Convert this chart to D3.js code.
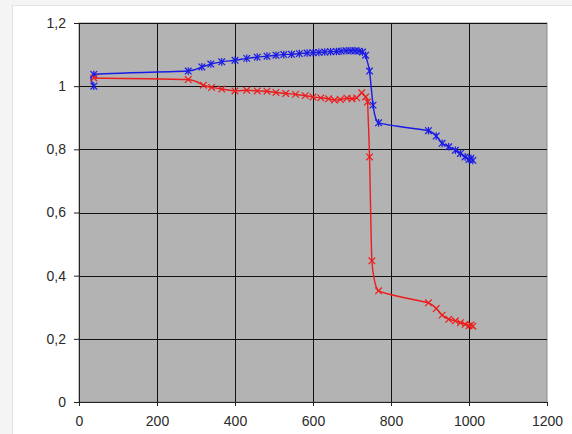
<!DOCTYPE html>
<html>
<head>
<meta charset="utf-8">
<script src="https://cdn.jsdelivr.net/npm/d3@7"></script>
<style>
  body { margin: 0; background: #f4f4f4; }
  svg { display: block; }
</style>
</head>
<body>
<div id="chart"></div>
<script>
// series values
let blueX = [38, 38, 280, 315, 338, 366, 400, 430, 457, 482, 505, 525, 545, 565, 585, 600, 615, 630, 645, 660,
    672, 685, 697, 708, 718, 727, 735, 745, 754, 768, 896, 916, 931, 948, 965, 978, 990, 1000, 1005, 1010];
let blueY = [1.0, 1.037, 1.048, 1.061, 1.070, 1.077, 1.082, 1.088, 1.092, 1.095, 1.098, 1.100, 1.101, 1.103, 1.105, 1.106, 1.107, 1.108, 1.109, 1.110,
    1.111, 1.112, 1.112, 1.112, 1.111, 1.108, 1.098, 1.048, 0.94, 0.884, 0.859, 0.842, 0.819, 0.808, 0.797, 0.787, 0.776, 0.768, 0.772, 0.765];

let redX = [38, 280, 319, 340, 366, 400, 430, 457, 482, 505, 530, 555, 580, 600, 620, 640, 655, 670, 687, 700,
    712, 725, 735, 740, 745, 751, 768, 896, 916, 931, 948, 965, 978, 990, 1000, 1005, 1010];
let redY = [1.026, 1.021, 1.003, 0.996, 0.991, 0.985, 0.987, 0.985, 0.984, 0.980, 0.977, 0.974, 0.970, 0.966, 0.963, 0.960, 0.956, 0.958, 0.962, 0.960,
    0.963, 0.979, 0.966, 0.950, 0.776, 0.447, 0.352, 0.314, 0.296, 0.275, 0.262, 0.257, 0.251, 0.246, 0.241, 0.244, 0.240];

let xTicks = [0, 200, 400, 600, 800, 1000, 1200];
let yTicks = [0, 0.2, 0.4, 0.6, 0.8, 1, 1.2];

let W = 572, H = 434;
let margin = {top: 23, right: 25, bottom: 32, left: 79};
let width = W - margin.left - margin.right;
let height = H - margin.top - margin.bottom;

let svg = d3.select("#chart").append("svg")
    .attr("width", W)
    .attr("height", H);

// chart area frame
svg.append("rect")
    .attr("x", 12.5).attr("y", 5.5)
    .attr("width", W).attr("height", H)
    .attr("fill", "#ffffff")
    .attr("stroke", "#e2e2e2");

let g = svg.append("g")
    .attr("transform", `translate(${margin.left}, ${margin.top})`);

let x = d3.scaleLinear().domain([0, 1200]).range([0, width]);
let y = d3.scaleLinear().domain([0, 1.2]).range([height, 0]);

// plot area
g.append("rect")
    .attr("width", width).attr("height", height)
    .attr("fill", "#b3b3b3")
    .attr("stroke", "#8c8c8c");

// gridlines
g.selectAll(".vgrid").data(xTicks.slice(1, -1)).enter().append("line")
    .attr("x1", d => Math.round(x(d)) + 0.5).attr("x2", d => Math.round(x(d)) + 0.5)
    .attr("y1", 0).attr("y2", height)
    .attr("stroke", "#111").attr("stroke-width", 1);
g.selectAll(".hgrid").data(yTicks.slice(1)).enter().append("line")
    .attr("y1", d => Math.round(y(d)) + 0.5).attr("y2", d => Math.round(y(d)) + 0.5)
    .attr("x1", 0).attr("x2", width)
    .attr("stroke", "#111").attr("stroke-width", 1);

let fmt = d => String(d).replace(".", ",");

// axes
let xAxis = d3.axisBottom(x).tickValues(xTicks).tickSize(4).tickPadding(10).tickFormat(d3.format("d"));
let yAxis = d3.axisLeft(y).tickValues(yTicks).tickSize(5).tickPadding(8).tickFormat(fmt);

let gx = g.append("g")
    .attr("transform", "translate(0," + height + ")")
    .call(xAxis);
let gy = g.append("g").call(yAxis);

[gx, gy].forEach(a => {
    a.select(".domain").attr("stroke", "#222");
    a.selectAll(".tick line").attr("stroke", "#222");
    a.selectAll("text")
        .attr("font-family", "Liberation Sans, Arial, sans-serif")
        .attr("font-size", 14)
        .attr("fill", "#2a2a2a");
});

let line = d3.line()
    .x(d => x(d[0]))
    .y(d => y(d[1]))
    .curve(d3.curveCardinal.tension(0.6));

let blue = blueX.map((v, i) => [v, blueY[i]]);
let red = redX.map((v, i) => [v, redY[i]]);

function drawSeries(data, color, star) {
    g.append("path")
        .datum(data)
        .attr("fill", "none")
        .attr("stroke", color)
        .attr("stroke-width", 1.4)
        .attr("d", line);

    let s = 3.3;
    let m = g.append("g").selectAll("g").data(data).enter().append("g")
        .attr("transform", d => `translate(${x(d[0])},${y(d[1])})`)
        .attr("stroke", color)
        .attr("stroke-width", 1.2);
    m.append("line").attr("x1", -s).attr("y1", -s).attr("x2", s).attr("y2", s);
    m.append("line").attr("x1", -s).attr("y1", s).attr("x2", s).attr("y2", -s);
    if (star) {
        m.append("line").attr("x1", 0).attr("y1", -s - 0.5).attr("x2", 0).attr("y2", s + 0.5);
    }
}

drawSeries(blue, "#1a1ae6", true);
drawSeries(red, "#ee1c1c", false);
</script>
</body>
</html>
